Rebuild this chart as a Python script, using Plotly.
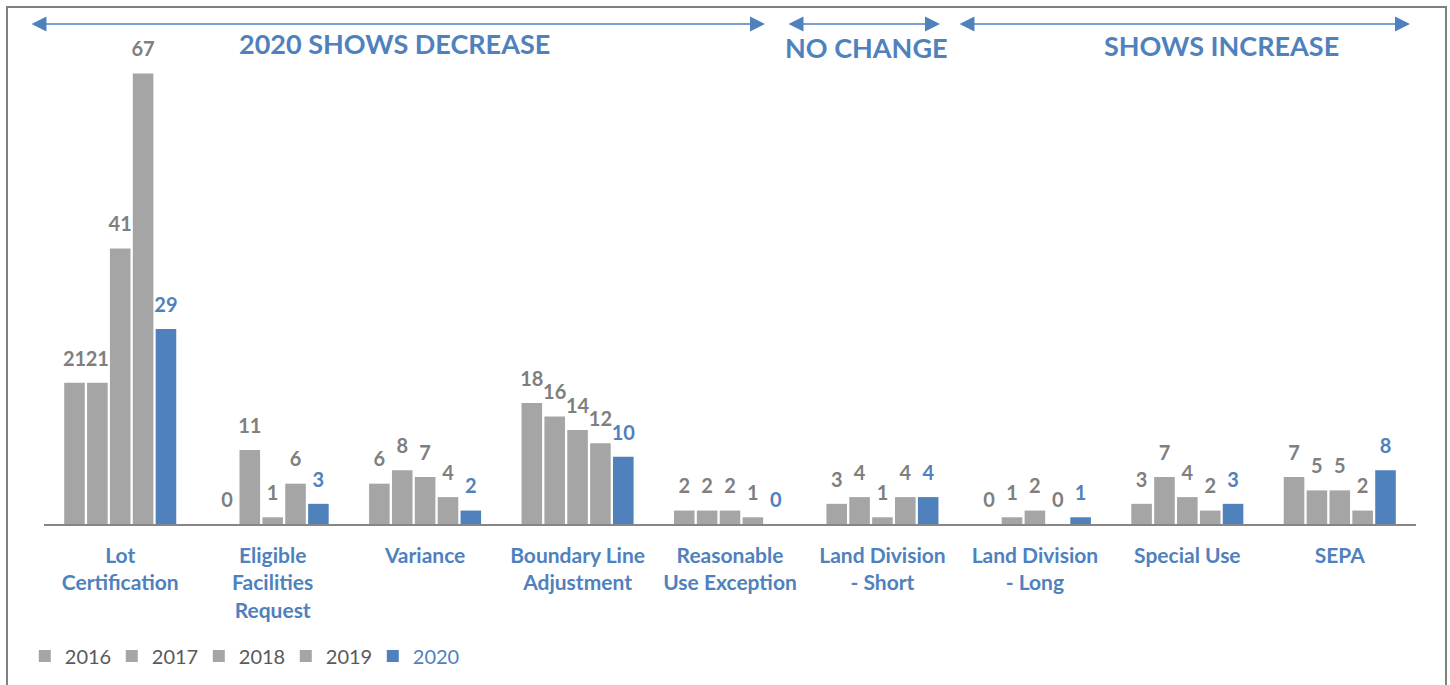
import plotly.graph_objects as go

categories = ["Lot<br>Certification", "Eligible<br>Facilities<br>Request", "Variance",
              "Boundary Line<br>Adjustment", "Reasonable<br>Use Exception",
              "Land Division<br>- Short", "Land Division<br>- Long", "Special Use", "SEPA"]
years = ["2016", "2017", "2018", "2019", "2020"]
v2016 = [21, 0, 6, 18, 2, 3, 0, 3, 7]
v2017 = [21, 11, 8, 16, 2, 4, 1, 7, 5]
v2018 = [41, 1, 7, 14, 2, 1, 2, 4, 5]
v2019 = [67, 6, 4, 12, 1, 4, 0, 2, 2]
v2020 = [29, 3, 2, 10, 0, 4, 1, 3, 8]
series = [v2016, v2017, v2018, v2019, v2020]

GRAY = "#a5a5a5"
GRAY_TXT = "#7f7f7f"
BLUE = "#4f81bd"
FONT = "Lato"

# layout geometry (pixels)
W, H = 1450, 685
ML, MR, MT, MB = 44, 34, 40, 161
PW = W - ML - MR
PH = H - MT - MB


def px_x(p):
    return (p - ML) / PW


def px_y(p):
    return (H - MB - p) / PH


fig = go.Figure()
for yr, vals in zip(years, series):
    is_blue = yr == "2020"
    col = BLUE if is_blue else GRAY
    name = f"<span style='color:{BLUE}'>{yr}</span>" if is_blue else yr
    fig.add_trace(go.Bar(
        x=categories, y=vals, name=name,
        marker=dict(color=col, line=dict(width=0)),
        hoverinfo="skip",
    ))
# data labels as grouped scatter text, aligned with the bars
for yr, vals in zip(years, series):
    is_blue = yr == "2020"
    fig.add_trace(go.Scatter(
        x=categories, y=vals, mode="markers+text", showlegend=False,
        marker=dict(size=18, opacity=0),
        text=[str(v) for v in vals], textposition="top center",
        textfont=dict(family=FONT, size=20, color=BLUE if is_blue else GRAY_TXT, weight="bold"),
        cliponaxis=False, hoverinfo="skip",
    ))

annots = []
arrow_color = BLUE
for x0, x1 in [(30, 765), (787, 940), (958, 1410)]:
    annots.append(dict(
        x=px_x(x1), y=px_y(24), xref="paper", yref="paper",
        ax=-(x1 - x0), ay=0, axref="pixel", ayref="pixel",
        text="", showarrow=True, arrowside="end+start",
        arrowhead=2, startarrowhead=2, arrowsize=2.0, startarrowsize=2.0,
        arrowwidth=1.5, arrowcolor=arrow_color,
    ))
for txt, cx, cy in [("2020 SHOWS DECREASE", 395, 44), ("NO CHANGE", 866, 47), ("SHOWS INCREASE", 1221, 46)]:
    annots.append(dict(
        x=px_x(cx), y=px_y(cy), xref="paper", yref="paper", text=txt, showarrow=False,
        xanchor="center", yanchor="middle",
        font=dict(family=FONT, size=27, color=BLUE, weight="bold"),
    ))

fig.update_layout(
    width=W, height=H,
    margin=dict(l=ML, r=MR, t=MT, b=MB, autoexpand=False),
    paper_bgcolor="white", plot_bgcolor="white",
    barmode="group", bargap=0.25, bargroupgap=0.1,
    scattermode="group", scattergap=0.25,
    xaxis=dict(showline=True, linecolor="#868686", linewidth=1.5, ticks="",
               tickfont=dict(family=FONT, size=21, color=BLUE, weight="bold"),
               ticklabelstandoff=12,
               showgrid=False, fixedrange=True),
    yaxis=dict(range=[0, 72], visible=False, showgrid=False, fixedrange=True),
    showlegend=True,
    legend=dict(orientation="h", x=-0.014, xanchor="left", y=px_y(656), yanchor="middle",
                font=dict(family=FONT, size=20, color="#595959"),
                entrywidth=42, entrywidthmode="pixels", traceorder="normal",
                itemclick=False, itemdoubleclick=False),
    annotations=annots,
    shapes=[dict(type="rect", xref="paper", yref="paper",
                 x0=px_x(7), x1=px_x(1446), y0=px_y(700), y1=px_y(7),
                 line=dict(color="#808080", width=2), fillcolor="rgba(0,0,0,0)", layer="below")],
)

fig.write_html("out.html", config={"displayModeBar": False},
               post_script="document.body.style.margin='0';document.body.style.overflow='hidden';")
